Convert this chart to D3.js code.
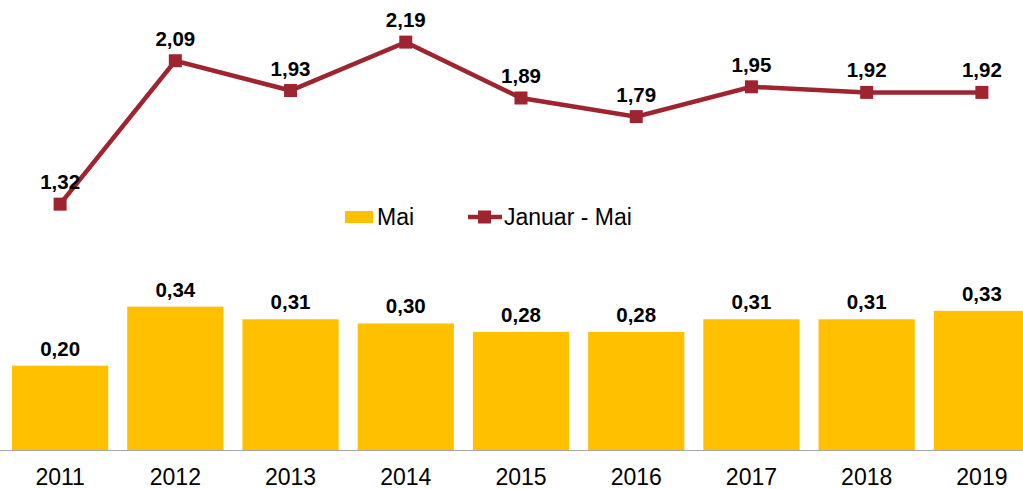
<!DOCTYPE html>
<html>
<head>
<meta charset="utf-8">
<script src="https://cdn.jsdelivr.net/npm/d3@7"></script>
<style>
  body { margin: 0; background: #fff; }
  svg { display: block; }
</style>
</head>
<body>
<svg id="chart" width="1023" height="489"></svg>
<script>
// data
const years = ["2011", "2012", "2013", "2014", "2015", "2016", "2017", "2018", "2019"];
const maiValues = [0.20, 0.34, 0.31, 0.30, 0.28, 0.28, 0.31, 0.31, 0.33];
const janMaiValues = [1.32, 2.09, 1.93, 2.19, 1.89, 1.79, 1.95, 1.92, 1.92];

const width = 1023, height = 489;
const svg = d3.select("#chart");
const font = "Arial, 'Liberation Sans', sans-serif";
const fmt = v => d3.format(".2f")(v).replace(".", ",");

const barColor = "#FFC000";
const lineColor = "#9E2430";

// scales (chart is cut off on the right, like the source)
const x = d3.scaleBand()
  .domain(years)
  .range([2.5, 1039.5])
  .paddingInner(0.165)
  .paddingOuter(0.0825);

const yBar = d3.scaleLinear().domain([0, 1.06]).range([450, 3]);
const yLine = d3.scaleLinear().domain([0, 2.4]).range([450, 3]);

// bars
svg.append("g")
  .selectAll("rect")
  .data(years)
  .join("rect")
    .attr("x", d => x(d))
    .attr("y", (d, i) => yBar(maiValues[i]))
    .attr("width", x.bandwidth())
    .attr("height", (d, i) => yBar(0) - yBar(maiValues[i]))
    .attr("fill", barColor);

svg.append("g")
  .selectAll("text")
  .data(years)
  .join("text")
    .attr("x", d => x(d) + x.bandwidth() / 2)
    .attr("y", (d, i) => yBar(maiValues[i]) - 10)
    .attr("text-anchor", "middle")
    .attr("font-family", font)
    .attr("font-weight", "bold")
    .attr("font-size", "20.5px")
    .attr("fill", "#000")
    .text((d, i) => fmt(maiValues[i]));

// x axis
const xAxis = svg.append("g")
  .attr("transform", `translate(0,${yBar(0)})`)
  .call(d3.axisBottom(x).tickSize(0));
xAxis.select(".domain").remove();
xAxis.selectAll("text")
  .attr("dy", null)
  .attr("y", 35)
  .attr("font-family", font)
  .attr("font-size", "23px")
  .attr("fill", "#000");

svg.append("line")
  .attr("x1", 0).attr("x2", width)
  .attr("y1", yBar(0) + 0.5).attr("y2", yBar(0) + 0.5)
  .attr("stroke", "#a6a6a6")
  .attr("stroke-width", 1);

// line
const cx = d => x(d) + x.bandwidth() / 2;
const line = d3.line()
  .x((d, i) => cx(years[i]))
  .y(d => yLine(d));

svg.append("path")
  .datum(janMaiValues)
  .attr("d", line)
  .attr("fill", "none")
  .attr("stroke", lineColor)
  .attr("stroke-width", 4.5);

svg.append("g")
  .selectAll("rect")
  .data(janMaiValues)
  .join("rect")
    .attr("x", (d, i) => cx(years[i]) - 6.5)
    .attr("y", d => yLine(d) - 6.5)
    .attr("width", 13)
    .attr("height", 13)
    .attr("fill", lineColor);

svg.append("g")
  .selectAll("text")
  .data(janMaiValues)
  .join("text")
    .attr("x", (d, i) => cx(years[i]))
    .attr("y", d => yLine(d) - 15)
    .attr("text-anchor", "middle")
    .attr("font-family", font)
    .attr("font-weight", "bold")
    .attr("font-size", "20.5px")
    .attr("fill", "#000")
    .text(d => fmt(d));

// legend
const legend = svg.append("g").attr("transform", "translate(345,211)");
legend.append("rect")
  .attr("width", 28).attr("height", 12)
  .attr("fill", barColor);
legend.append("text")
  .attr("x", 32).attr("y", 14)
  .attr("font-family", font)
  .attr("font-size", "23px")
  .attr("fill", "#000")
  .text("Mai");

legend.append("line")
  .attr("x1", 123).attr("x2", 157)
  .attr("y1", 6).attr("y2", 6)
  .attr("stroke", lineColor)
  .attr("stroke-width", 4.5);
legend.append("rect")
  .attr("x", 133).attr("y", -0.5)
  .attr("width", 13).attr("height", 13)
  .attr("fill", lineColor);
legend.append("text")
  .attr("x", 159).attr("y", 14)
  .attr("font-family", font)
  .attr("font-size", "23px")
  .attr("fill", "#000")
  .text("Januar - Mai");
</script>
</body>
</html>
